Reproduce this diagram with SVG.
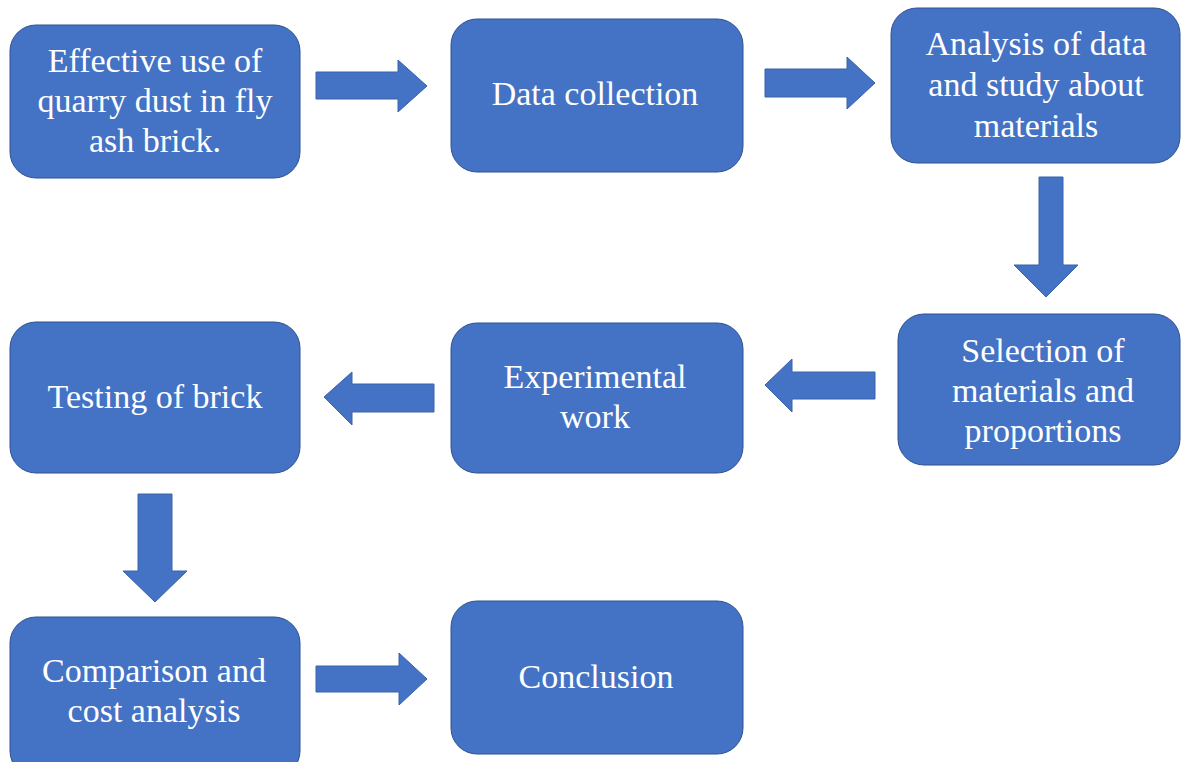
<svg xmlns="http://www.w3.org/2000/svg" width="1181" height="762" viewBox="0 0 1181 762">
<style>
.box{fill:#4472C4;stroke:#2F528F;stroke-width:1}
.arr{fill:#4472C4;stroke:#3B62AA;stroke-width:1}
.t{fill:#FFFFFF;font-family:"Liberation Serif","Times New Roman",Times,serif;font-size:34px;text-anchor:middle}
</style>
<rect width="1181" height="762" fill="#FFFFFF"/>
<g id="connectors">
<path class="arr" d="M316,72 H398 V60 L427,86 L398,112 V99 H316 Z"/>
<path class="arr" d="M765,69 H847 V57 L875,83 L847,109 V97 H765 Z"/>
<path class="arr" d="M1039,177 H1063 V265 H1078 L1046,297 L1014,265 H1039 Z"/>
<path class="arr" d="M875,372 H792 V359 L765,385 L792,412 V399 H875 Z"/>
<path class="arr" d="M434,384 H352 V372 L324,397 L352,425 V412 H434 Z"/>
<path class="arr" d="M138,494 H172 V571 H187 L155,602 L123,571 H138 Z"/>
<path class="arr" d="M316,666 H399 V653 L427,679 L399,705 V692 H316 Z"/>
</g>
<g id="n1">
<rect class="box" x="10" y="25" width="290" height="153" rx="26"/>
<text class="t" x="155" y="72">Effective use of</text>
<text class="t" x="155" y="112">quarry dust in fly</text>
<text class="t" x="155" y="152">ash brick.</text>
</g>
<g id="n2">
<rect class="box" x="451" y="19" width="292" height="153" rx="26"/>
<text class="t" x="595" y="105">Data collection</text>
</g>
<g id="n3">
<rect class="box" x="891" y="8" width="289" height="155" rx="26"/>
<text class="t" x="1036" y="55">Analysis of data</text>
<text class="t" x="1036" y="96">and study about</text>
<text class="t" x="1036" y="137">materials</text>
</g>
<g id="n4">
<rect class="box" x="898" y="314" width="282" height="151" rx="26"/>
<text class="t" x="1043" y="362">Selection of</text>
<text class="t" x="1043" y="402">materials and</text>
<text class="t" x="1043" y="442">proportions</text>
</g>
<g id="n5">
<rect class="box" x="451" y="323" width="292" height="150" rx="26"/>
<text class="t" x="595" y="388">Experimental</text>
<text class="t" x="595" y="428">work</text>
</g>
<g id="n6">
<rect class="box" x="10" y="322" width="290" height="151" rx="26"/>
<text class="t" x="155" y="408">Testing of brick</text>
</g>
<g id="n7">
<rect class="box" x="10" y="617" width="290" height="160" rx="26"/>
<text class="t" x="154" y="682">Comparison and</text>
<text class="t" x="154" y="722">cost analysis</text>
</g>
<g id="n8">
<rect class="box" x="451" y="601" width="292" height="153" rx="26"/>
<text class="t" x="596" y="688">Conclusion</text>
</g>
</svg>
